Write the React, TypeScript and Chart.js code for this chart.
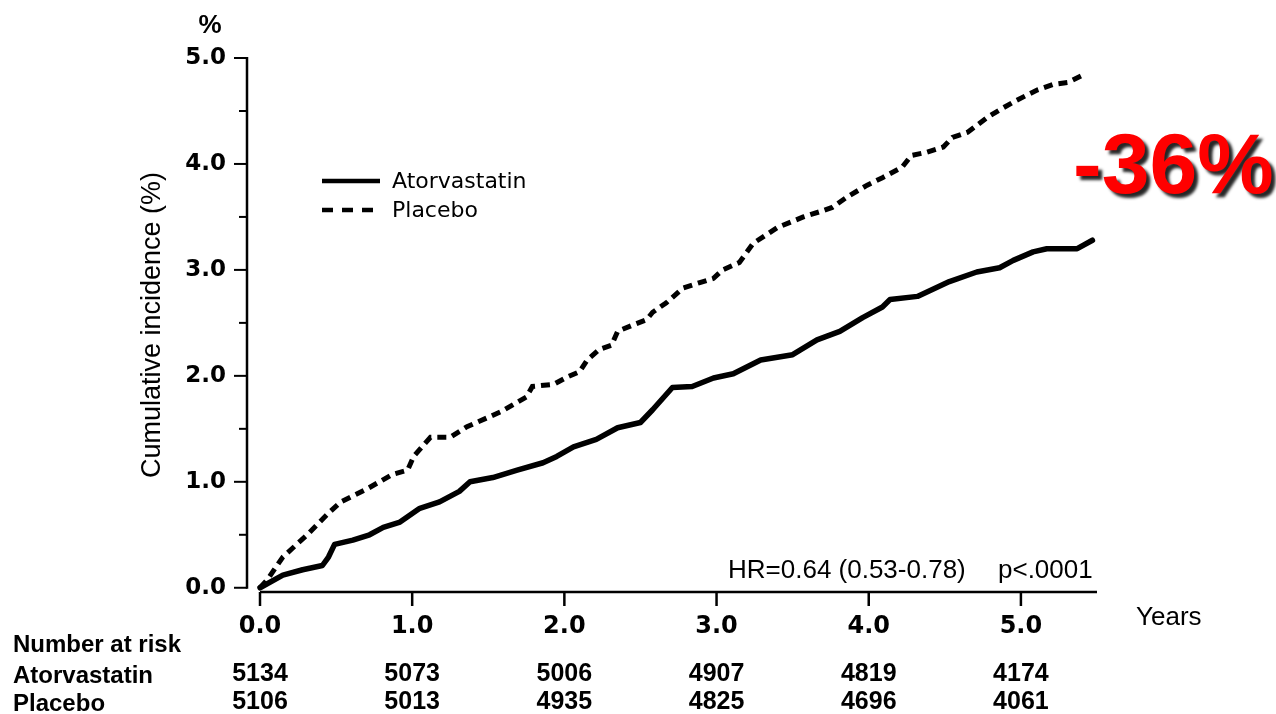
import React, { useEffect, useRef } from "react";
import { Chart, registerables } from "chart.js";

Chart.register(...registerables);

// ---- data ----
const atorvastatinYears = [0, 0.15, 0.28, 0.41, 0.45, 0.49, 0.61, 0.72, 0.81, 0.92, 1.05, 1.18, 1.31, 1.38, 1.53, 1.69, 1.86, 1.95, 2.06, 2.21, 2.35, 2.5, 2.58, 2.71, 2.84, 2.98, 3.11, 3.29, 3.5, 3.66, 3.81, 3.96, 4.09, 4.14, 4.32, 4.53, 4.71, 4.86, 4.95, 5.08, 5.17, 5.37, 5.47];
const atorvastatinIncidence = [0, 0.12, 0.17, 0.21, 0.29, 0.41, 0.45, 0.5, 0.57, 0.62, 0.75, 0.81, 0.91, 1.0, 1.04, 1.11, 1.18, 1.24, 1.33, 1.4, 1.51, 1.56, 1.68, 1.89, 1.9, 1.98, 2.02, 2.15, 2.2, 2.34, 2.42, 2.55, 2.65, 2.72, 2.75, 2.89, 2.98, 3.02, 3.09, 3.17, 3.2, 3.2, 3.28];

const placeboYears = [0, 0.05, 0.15, 0.31, 0.44, 0.53, 0.7, 0.87, 0.97, 1.01, 1.12, 1.25, 1.36, 1.58, 1.75, 1.79, 1.93, 2.02, 2.1, 2.15, 2.23, 2.31, 2.35, 2.45, 2.54, 2.58, 2.67, 2.78, 2.89, 2.98, 3.04, 3.15, 3.24, 3.4, 3.57, 3.68, 3.76, 3.86, 3.99, 4.09, 4.22, 4.28, 4.38, 4.49, 4.55, 4.65, 4.78, 4.86, 4.97, 5.11, 5.21, 5.31, 5.41];
const placeboIncidence = [0, 0.08, 0.29, 0.5, 0.69, 0.81, 0.93, 1.07, 1.11, 1.24, 1.42, 1.42, 1.52, 1.66, 1.8, 1.9, 1.92, 1.99, 2.04, 2.15, 2.25, 2.29, 2.42, 2.48, 2.53, 2.6, 2.69, 2.83, 2.88, 2.92, 3.0, 3.07, 3.25, 3.4, 3.5, 3.55, 3.59, 3.69, 3.8, 3.87, 3.97, 4.08, 4.11, 4.16, 4.25, 4.3, 4.44, 4.51, 4.6, 4.7, 4.75, 4.77, 4.84];

const seriesNames = ["Atorvastatin", "Placebo"];
const xTickValues = [0, 1, 2, 3, 4, 5];
const yTickValues = [0, 1, 2, 3, 4, 5];
const yMinorTickValues = [0.5, 1.5, 2.5, 3.5, 4.5];
const riskYears = [0, 1, 2, 3, 4, 5];
const atorvastatinAtRisk = [5134, 5073, 5006, 4907, 4819, 4174];
const placeboAtRisk = [5106, 5013, 4935, 4825, 4696, 4061];
const hrText = "HR=0.64 (0.53-0.78)";
const pText = "p<.0001";
const reductionText = "-36%";

const ARIAL = '"Liberation Sans", Arial, sans-serif';
const DEJAVU = '"DejaVu Sans", sans-serif';

const overlayPlugin = {
  id: "overlay",
  afterDraw(chart: any) {
    const ctx = chart.ctx as CanvasRenderingContext2D;
    const xs = chart.scales.x;
    const ys = chart.scales.y;
    const area = chart.chartArea;
    ctx.save();
    ctx.strokeStyle = "#000";
    ctx.fillStyle = "#000";
    ctx.lineCap = "butt";

    // y axis line + ticks
    const yAxisX = area.left - 13;
    ctx.lineWidth = 2.5;
    ctx.beginPath();
    ctx.moveTo(yAxisX, ys.getPixelForValue(5) - 1);
    ctx.lineTo(yAxisX, ys.getPixelForValue(0) + 1);
    ctx.stroke();
    ctx.lineWidth = 2;
    yTickValues.forEach((v) => {
      const p = ys.getPixelForValue(v);
      ctx.beginPath();
      ctx.moveTo(yAxisX - 13, p);
      ctx.lineTo(yAxisX, p);
      ctx.stroke();
    });
    yMinorTickValues.forEach((v) => {
      const p = ys.getPixelForValue(v);
      ctx.beginPath();
      ctx.moveTo(yAxisX - 8, p);
      ctx.lineTo(yAxisX, p);
      ctx.stroke();
    });

    // x axis line + ticks
    const xAxisY = area.bottom;
    ctx.lineWidth = 2.5;
    ctx.beginPath();
    ctx.moveTo(xs.getPixelForValue(0), xAxisY);
    ctx.lineTo(area.right, xAxisY);
    ctx.stroke();
    ctx.lineWidth = 2.5;
    xTickValues.forEach((v) => {
      const p = xs.getPixelForValue(v);
      ctx.beginPath();
      ctx.moveTo(p, xAxisY);
      ctx.lineTo(p, xAxisY + 14);
      ctx.stroke();
    });

    // "%" above y axis
    ctx.font = `bold 26px ${ARIAL}`;
    ctx.textAlign = "center";
    ctx.textBaseline = "middle";
    ctx.fillText("%", 210, 26);

    // legend
    const ds = chart.data.datasets;
    ctx.textAlign = "left";
    ctx.font = `22px ${DEJAVU}`;
    const legendRows = [181, 210];
    ds.forEach((d: any, i: number) => {
      const y = legendRows[i];
      ctx.save();
      ctx.strokeStyle = d.borderColor;
      ctx.lineWidth = 4.5;
      ctx.setLineDash(i === 0 ? [] : [11, 9]);
      ctx.beginPath();
      ctx.moveTo(322, y);
      ctx.lineTo(380, y);
      ctx.stroke();
      ctx.restore();
      ctx.fillText(d.label, 392, y + 1);
    });

    // HR text
    ctx.font = `26px ${ARIAL}`;
    ctx.fillText(hrText, 728, 571);
    ctx.fillText(pText, 998, 571);

    // Years
    ctx.fillText("Years", 1136, 618);

    // Number at risk
    ctx.font = `bold 24px ${ARIAL}`;
    ctx.fillText("Number at risk", 13, 645);
    ctx.fillText(seriesNames[0], 13, 676);
    ctx.fillText(seriesNames[1], 13, 704);
    ctx.font = `bold 25px ${ARIAL}`;
    ctx.textAlign = "center";
    riskYears.forEach((yr, i) => {
      const p = xs.getPixelForValue(yr);
      ctx.fillText(String(atorvastatinAtRisk[i]), p, 674);
      ctx.fillText(String(placeboAtRisk[i]), p, 702);
    });

    // -36%
    ctx.save();
    ctx.font = `bold 86px ${ARIAL}`;
    ctx.textAlign = "left";
    ctx.textBaseline = "alphabetic";
    ctx.shadowColor = "rgba(0,0,0,0.85)";
    ctx.shadowOffsetX = 4;
    ctx.shadowOffsetY = 4;
    ctx.shadowBlur = 3;
    ctx.fillStyle = "#ff0000";
    ctx.fillText(reductionText, 1073, 193);
    ctx.restore();

    ctx.restore();
  },
};

export default function App() {
  const canvasRef = useRef<HTMLCanvasElement | null>(null);

  useEffect(() => {
    const canvas = canvasRef.current;
    if (!canvas) return;
    const chart = new Chart(canvas, {
      type: "line",
      data: {
        datasets: [
          {
            label: seriesNames[0],
            data: atorvastatinYears.map((x, i) => ({ x, y: atorvastatinIncidence[i] })),
            borderColor: "#000",
            borderWidth: 5.5,
            borderJoinStyle: "round",
            borderCapStyle: "round",
            pointRadius: 0,
            tension: 0,
            fill: false,
            clip: false,
          },
          {
            label: seriesNames[1],
            data: placeboYears.map((x, i) => ({ x, y: placeboIncidence[i] })),
            borderColor: "#000",
            borderWidth: 5,
            borderDash: [9, 6],
            borderCapStyle: "butt",
            pointRadius: 0,
            tension: 0,
            fill: false,
            clip: false,
          },
        ],
      },
      options: {
        animation: false,
        responsive: false,
        devicePixelRatio: 1,
        layout: { padding: { top: 58, right: 179, left: 0, bottom: 0 } },
        plugins: {
          legend: { display: false },
          tooltip: { enabled: false },
          title: { display: false },
        },
        scales: {
          x: {
            type: "linear",
            min: 0,
            max: 5.5,
            border: { display: false },
            grid: { display: false, drawTicks: false },
            afterBuildTicks: (scale: any) => {
              scale.ticks = xTickValues.map((v) => ({ value: v }));
            },
            afterFit: (scale: any) => {
              scale.height = 122;
            },
            ticks: {
              padding: 20,
              color: "#000",
              font: { family: DEJAVU, size: 24, weight: "bold" },
              maxRotation: 0,
              autoSkip: false,
              callback: (v: any) => Number(v).toFixed(1),
            },
          },
          y: {
            type: "linear",
            min: -0.04,
            max: 5,
            border: { display: false },
            grid: { display: false, drawTicks: false },
            afterBuildTicks: (scale: any) => {
              scale.ticks = yTickValues.map((v) => ({ value: v }));
            },
            afterFit: (scale: any) => {
              scale.width = 260;
            },
            ticks: {
              padding: 34,
              color: "#000",
              font: { family: DEJAVU, size: 23, weight: "bold" },
              autoSkip: false,
              callback: (v: any) => Number(v).toFixed(1),
            },
            title: {
              display: true,
              text: "Cumulative incidence (%)",
              color: "#000",
              font: { family: ARIAL, size: 27, weight: "normal" },
              padding: { top: 136, bottom: 0 },
            },
          },
        },
      },
      plugins: [overlayPlugin],
    } as any);
    return () => chart.destroy();
  }, []);

  return (
    <div style={{ position: "fixed", left: 0, top: 0, width: 1276, height: 714, background: "#fff" }}>
      <canvas ref={canvasRef} width={1276} height={714} style={{ display: "block" }} />
    </div>
  );
}
